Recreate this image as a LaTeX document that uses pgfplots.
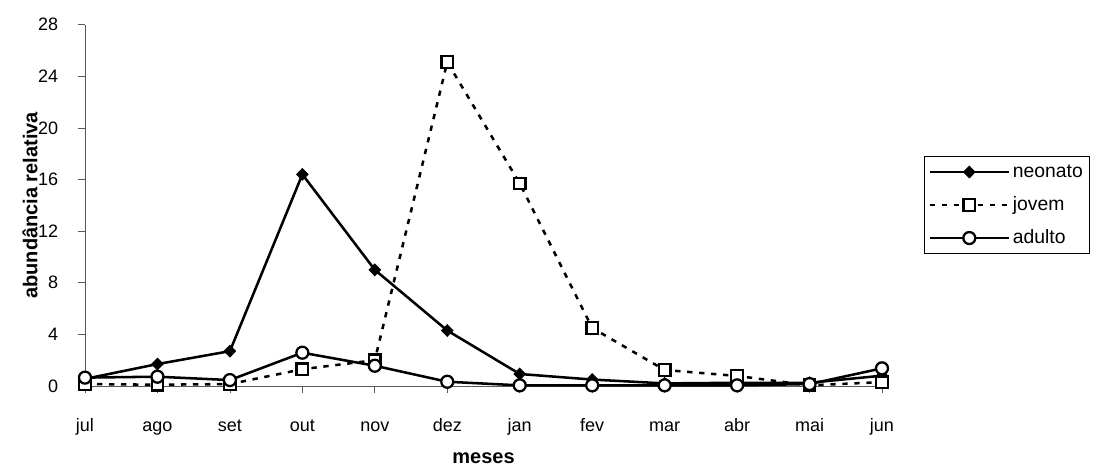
\documentclass[border=0pt]{standalone}
\usepackage{fontspec}
\setmainfont{Liberation Sans}
\usepackage{pgfplots}
\pgfplotsset{compat=1.18}

\begin{document}
\begin{tikzpicture}[x=1pt,y=1pt]
   \begin{axis}[scale only axis, width=597.75pt, height=271pt,
      at={(0,0)}, anchor=south west,
      /pgf/number format/assume math mode=true,
      xmin=0, xmax=11, ymin=0, ymax=28,
      xtick={0,...,11},
      xticklabels={jul,ago,set,out,nov,dez,jan,fev,mar,abr,mai,jun},
      ytick={0,4,...,28},
      axis x line*=bottom, axis y line*=left,
      axis line style={gray!70!black, line width=0.6pt, -},
      tick style={gray!70!black, line width=0.6pt},
      tick align=outside, major tick length=5pt,
      tick label style={font=\fontsize{13.5}{15}\selectfont, inner sep=0pt},
      xticklabel style={anchor=base, yshift=-29.25pt},
      yticklabel style={anchor=east, xshift=-15pt},
      label style={font=\fontsize{15}{17}\selectfont\bfseries},
      xlabel={meses},
      ylabel={abundância relativa},
      xlabel style={at={(axis description cs:0.5,-0.2131)}, anchor=base},
      ylabel style={at={(axis description cs:-0.069,0.5)}, anchor=center},
      clip=false,
      legend style={at={(1.0527,0.6366)}, anchor=north west, draw=black,
         line width=0.6pt, font=\fontsize{14.5}{16}\selectfont,
         inner xsep=3pt, inner ysep=3pt, row sep=7.25pt,
         nodes={inner sep=2pt, text height=10.5pt, text depth=3pt},
         cells={anchor=west}},
      legend image code/.code={\draw[mark repeat=2,mark phase=2,#1]
         plot coordinates {(0cm,0cm) (1.045cm,0cm) (2.09cm,0cm)};},
   ]
   \addplot[black, line width=1.9pt, mark=diamond*, mark size=4.3pt,
      mark options={solid, fill=black, line width=0.8pt, xscale=1.3}] coordinates {
      (0,0.55) (1,1.7) (2,2.7) (3,16.4) (4,9.0) (5,4.3)
      (6,0.93) (7,0.5) (8,0.2) (9,0.25) (10,0.25) (11,0.8)
   };
   \addlegendentry{neonato}
   \addplot[black, line width=1.9pt, dash pattern=on 4pt off 5pt, mark=square*, mark size=4.3pt,
      mark options={solid, fill=white, line width=1.7pt}] coordinates {
      (0,0.15) (1,0.1) (2,0.15) (3,1.3) (4,2.0) (5,25.1)
      (6,15.7) (7,4.5) (8,1.24) (9,0.78) (10,0.05) (11,0.3)
   };
   \addlegendentry{jovem}
   \addplot[black, line width=1.9pt, mark=*, mark size=4.5pt,
      mark options={solid, fill=white, line width=1.7pt}] coordinates {
      (0,0.65) (1,0.72) (2,0.46) (3,2.58) (4,1.57) (5,0.33)
      (6,0.05) (7,0.05) (8,0.05) (9,0.05) (10,0.15) (11,1.37)
   };
   \addlegendentry{adulto}
   \end{axis}
   \path (-63.75,-60.75) rectangle (756,289.5);
\end{tikzpicture}
\end{document}
